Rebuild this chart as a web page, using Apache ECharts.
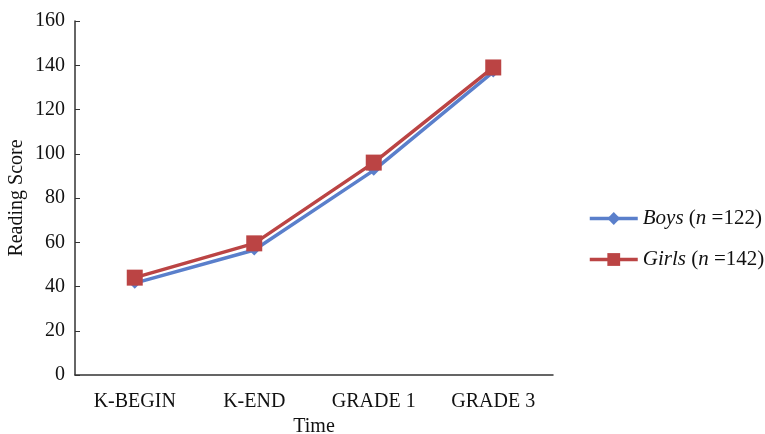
<!DOCTYPE html>
<html>
<head>
<meta charset="utf-8">
<script src="https://cdn.jsdelivr.net/npm/echarts@6/dist/echarts.min.js"></script>
<style>html,body{margin:0;padding:0;background:#fff}#chart{width:765px;height:434px}</style>
</head>
<body>
<div id="chart"></div>
<script>
// Reading scores by time point
var categories = ['K-BEGIN', 'K-END', 'GRADE 1', 'GRADE 3'];
var boys = [41.5, 56.5, 92.5, 137];
var girls = [44, 59.5, 96, 139];
var yTicks = [0, 20, 40, 60, 80, 100, 120, 140, 160];

var serif = '"Liberation Serif", "DejaVu Serif", serif';
var chart = echarts.init(document.getElementById('chart'));
chart.setOption({
  animation: false,
  textStyle: { fontFamily: serif },
  grid: { left: 75, right: 212, top: 21, bottom: 59, containLabel: false, outerBoundsMode: 'none' },
  legend: {
    orient: 'vertical',
    left: 583,
    top: 203,
    itemGap: 20,
    itemWidth: 48,
    itemHeight: 16,
    lineStyle: { width: 3.5 },
    textStyle: {
      fontFamily: serif, fontSize: 21, color: '#111',
      rich: { i: { fontFamily: serif, fontSize: 21, fontStyle: 'italic', color: '#111' } }
    },
    formatter: function (name) {
      return name === 'Boys' ? '{i|Boys} ({i|n} =122)' : '{i|Girls} ({i|n} =142)';
    },
    data: ['Boys', 'Girls']
  },
  xAxis: {
    type: 'category',
    data: categories,
    boundaryGap: true,
    name: 'Time',
    nameLocation: 'middle',
    nameGap: 41,
    nameTextStyle: { fontFamily: serif, fontSize: 20, color: '#111' },
    axisLine: { lineStyle: { color: '#333', width: 1.5 } },
    axisTick: { inside: true, length: 5, lineStyle: { color: '#333' } },
    axisLabel: { fontFamily: serif, fontSize: 20, color: '#111', margin: 17 }
  },
  yAxis: {
    type: 'value',
    min: yTicks[0],
    max: yTicks[yTicks.length - 1],
    interval: 20,
    name: 'Reading Score',
    nameLocation: 'middle',
    nameGap: 48,
    nameMoveOverlap: false,
    nameTextStyle: { fontFamily: serif, fontSize: 20, color: '#111' },
    splitLine: { show: false },
    axisLine: { show: true, lineStyle: { color: '#333', width: 1.5 } },
    axisTick: { show: true, inside: true, length: 5, lineStyle: { color: '#333' } },
    axisLabel: { fontFamily: serif, fontSize: 20, color: '#111', margin: 10 }
  },
  series: [
    {
      name: 'Boys',
      type: 'line',
      data: boys,
      symbol: 'diamond',
      symbolSize: 11,
      lineStyle: { color: '#5a7fcb', width: 3.5 },
      itemStyle: { color: '#5a7fcb' }
    },
    {
      name: 'Girls',
      type: 'line',
      data: girls,
      symbol: 'rect',
      symbolSize: 16,
      lineStyle: { color: '#bb4444', width: 3.5 },
      itemStyle: { color: '#bb4444' }
    }
  ]
});
</script>
</body>
</html>
